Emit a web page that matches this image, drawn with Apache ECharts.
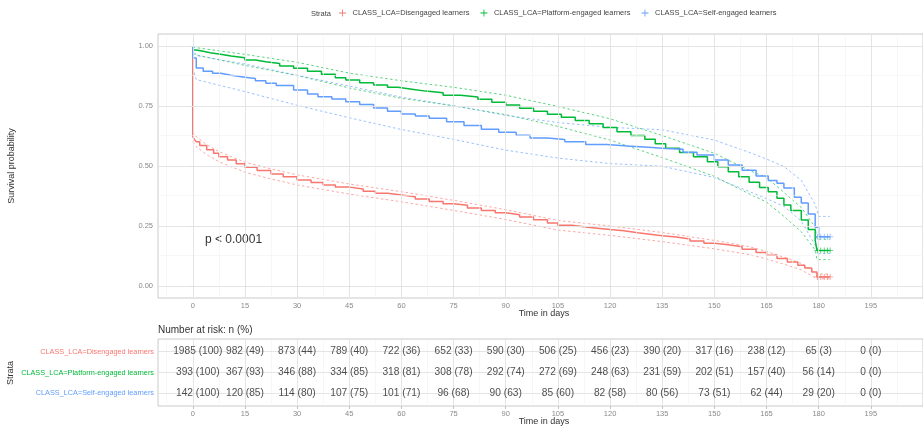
<!DOCTYPE html>
<html><head><meta charset="utf-8">
<script src="https://cdn.jsdelivr.net/npm/echarts@6/dist/echarts.min.js"></script>
<style>html,body{margin:0;padding:0;background:#fff}#c{width:923px;height:428px}</style>
</head><body><div id="c"></div>
<script>
// ---------- data ----------
const strata = ['CLASS_LCA=Disengaged learners', 'CLASS_LCA=Platform-engaged learners', 'CLASS_LCA=Self-engaged learners'];
const colors = ['#F8766D', '#00BA38', '#619CFF'];
const xTicks = [0, 15, 30, 45, 60, 75, 90, 105, 120, 135, 150, 165, 180, 195];
const xMinor = [-7.5, 7.5, 22.5, 37.5, 52.5, 67.5, 82.5, 97.5, 112.5, 127.5, 142.5, 157.5, 172.5, 187.5, 202.5];
const yTicks = [0, 0.25, 0.5, 0.75, 1];
const yMinor = [0.125, 0.375, 0.625, 0.875];

// Kaplan-Meier estimates
const disT = [0, 0, 0.5, 1, 2, 4, 6, 7.5, 10, 12.5, 15, 18.5, 22.5, 26, 30, 34, 37.5, 41, 45, 49, 52.5, 56, 60, 64, 68, 72, 75, 79, 83, 87, 90, 94, 98, 102, 105, 109, 113, 117, 120, 124, 128, 132, 135, 139, 143, 147, 150, 154, 158, 162, 165, 168, 171, 174, 176, 178, 179.5, 183.2];
const disS = [1, 0.622, 0.61, 0.601, 0.585, 0.568, 0.553, 0.539, 0.525, 0.509, 0.495, 0.481, 0.467, 0.455, 0.442, 0.431, 0.421, 0.412, 0.404, 0.395, 0.386, 0.379, 0.372, 0.362, 0.352, 0.343, 0.336, 0.325, 0.315, 0.305, 0.297, 0.287, 0.276, 0.262, 0.253, 0.246, 0.240, 0.235, 0.230, 0.222, 0.215, 0.209, 0.204, 0.196, 0.187, 0.178, 0.172, 0.164, 0.153, 0.140, 0.128, 0.115, 0.100, 0.086, 0.075, 0.058, 0.038, 0.038];
const platT = [0, 0, 1, 3, 5, 8, 11, 15, 18, 21, 25, 29, 33, 37, 41, 44, 48, 52, 56, 59, 63, 67, 72, 77, 82, 86, 90, 94, 98, 102, 106, 110, 114, 118, 122, 126, 130, 133, 136, 140, 144, 148, 151, 154, 157, 160, 163, 165.5, 168, 170, 172, 175, 177, 179, 179.5, 183.2];
const platS = [1, 0.983, 0.978, 0.972, 0.966, 0.958, 0.951, 0.942, 0.934, 0.927, 0.917, 0.907, 0.895, 0.882, 0.868, 0.858, 0.847, 0.838, 0.828, 0.820, 0.812, 0.805, 0.795, 0.787, 0.778, 0.766, 0.754, 0.741, 0.728, 0.716, 0.703, 0.690, 0.676, 0.660, 0.643, 0.627, 0.611, 0.593, 0.574, 0.556, 0.539, 0.518, 0.497, 0.476, 0.455, 0.432, 0.410, 0.393, 0.366, 0.338, 0.315, 0.275, 0.235, 0.190, 0.148, 0.148];
const selfT = [0, 0, 1, 3, 5.7, 8, 11, 15, 18, 21, 24, 29, 33, 36, 40, 44, 48, 52, 56, 60, 64, 68, 73, 78, 83, 88, 93, 97, 102, 107, 113, 119, 125, 131, 136, 141, 145, 150, 154, 158, 162, 165.5, 168, 170, 173, 175, 177, 179, 180, 183.2];
const selfS = [1, 0.95, 0.908, 0.895, 0.886, 0.878, 0.870, 0.865, 0.855, 0.845, 0.835, 0.817, 0.800, 0.789, 0.779, 0.768, 0.756, 0.742, 0.728, 0.717, 0.708, 0.699, 0.684, 0.669, 0.653, 0.641, 0.628, 0.617, 0.610, 0.601, 0.590, 0.583, 0.578, 0.573, 0.570, 0.557, 0.546, 0.525, 0.504, 0.482, 0.458, 0.440, 0.428, 0.408, 0.370, 0.346, 0.300, 0.245, 0.205, 0.205];

// confidence bands
const disCiT = [0, 1, 4, 7.5, 15, 22.5, 30, 45, 60, 75, 90, 105, 120, 135, 150, 160, 165, 170, 175, 179.5, 183.2];
const disUp = [0.643, 0.622, 0.589, 0.560, 0.516, 0.488, 0.463, 0.425, 0.393, 0.357, 0.318, 0.273, 0.250, 0.223, 0.190, 0.164, 0.144, 0.120, 0.094, 0.050, 0.050];
const disLo = [0.601, 0.580, 0.547, 0.518, 0.474, 0.446, 0.421, 0.383, 0.351, 0.315, 0.277, 0.233, 0.211, 0.185, 0.155, 0.131, 0.113, 0.091, 0.067, 0.030, 0.030];
const platCiT = [0, 1, 15, 30, 45, 60, 75, 90, 105, 120, 135, 150, 160, 165, 170, 175, 179, 179.5, 183.2];
const platUp = [0.996, 0.993, 0.965, 0.932, 0.887, 0.855, 0.828, 0.795, 0.748, 0.697, 0.627, 0.553, 0.482, 0.452, 0.390, 0.327, 0.245, 0.195, 0.195];
const platLo = [0.970, 0.963, 0.919, 0.877, 0.825, 0.782, 0.751, 0.714, 0.665, 0.608, 0.535, 0.457, 0.384, 0.350, 0.290, 0.226, 0.150, 0.110, 0.110];
const selfCiT = [0, 1, 15, 30, 45, 60, 75, 90, 105, 120, 135, 150, 160, 165, 170, 175, 179, 180, 183.2];
const selfUp = [0.99, 0.96, 0.925, 0.878, 0.833, 0.787, 0.751, 0.711, 0.681, 0.661, 0.651, 0.608, 0.557, 0.529, 0.498, 0.440, 0.340, 0.290, 0.290];
const selfLo = [0.91, 0.86, 0.81, 0.753, 0.701, 0.652, 0.611, 0.566, 0.533, 0.510, 0.499, 0.452, 0.394, 0.364, 0.332, 0.270, 0.170, 0.135, 0.135];

// censoring marks at end of follow-up
const censT = [179.6, 180.6, 181.6, 182.5, 183.3];
const censS = [0.038, 0.148, 0.205];

// number at risk table
const riskT = [0, 15, 30, 45, 60, 75, 90, 105, 120, 135, 150, 165, 180, 195];
const disN = [1985, 982, 873, 789, 722, 652, 590, 506, 456, 390, 317, 238, 65, 0];
const disP = [100, 49, 44, 40, 36, 33, 30, 25, 23, 20, 16, 12, 3, 0];
const platN = [393, 367, 346, 334, 318, 308, 292, 272, 248, 231, 202, 157, 56, 0];
const platP = [100, 93, 88, 85, 81, 78, 74, 69, 63, 59, 51, 40, 14, 0];
const selfN = [142, 120, 114, 107, 101, 96, 90, 85, 82, 80, 73, 62, 29, 0];
const selfP = [100, 85, 80, 75, 71, 68, 63, 60, 58, 56, 51, 44, 20, 0];
const rowVal = [3, 2, 1];

const pText = 'p < 0.0001';

// ---------- chart ----------
const FONT = "'Liberation Sans', Arial, sans-serif";
const zip = (a, b) => a.map((v, i) => [v, b[i]]);
const plusIcon = 'path://M0,4.4h10v1.2h-10zM4.4,0h1.2v10h-1.2z';
const TICKC = '#8a8a8a';

function gridLines(gi, xs, ys, color, width) {
  return {
    type: 'line', xAxisIndex: gi, yAxisIndex: gi, data: [], silent: true, z: 0, animation: false,
    markLine: {
      silent: true, symbol: ['none', 'none'], animation: false, label: {show: false},
      lineStyle: {color: color, width: width, type: 'solid'},
      emphasis: {disabled: true},
      data: xs.map(v => ({xAxis: v})).concat(ys.map(v => ({yAxis: v})))
    }
  };
}

const kmSets = [[disT, disS], [platT, platS], [selfT, selfS]];
const ciSets = [[disCiT, disUp, disLo], [platCiT, platUp, platLo], [selfCiT, selfUp, selfLo]];
const riskSets = [[disN, disP], [platN, platP], [selfN, selfP]];

const series = [];
series.push(gridLines(0, xMinor, yMinor, '#f1f1f1', 0.6));
series.push(gridLines(0, xTicks, yTicks, '#e2e2e2', 0.9));
series.push(gridLines(1, xMinor, [], '#f1f1f1', 0.6));
series.push(gridLines(1, xTicks, rowVal, '#e2e2e2', 0.9));

ciSets.forEach((c, i) => {
  [c[1], c[2]].forEach(v => {
    series.push({
      type: 'line', xAxisIndex: 0, yAxisIndex: 0, data: zip(c[0], v), showSymbol: false, silent: true,
      lineStyle: {color: colors[i], width: 0.8, type: [2.5, 2.5], opacity: 0.8}, z: 2, animation: false
    });
  });
});
kmSets.forEach((k, i) => {
  series.push({
    name: strata[i], type: 'line', step: 'end', xAxisIndex: 0, yAxisIndex: 0,
    data: zip(k[0], k[1]), showSymbol: false, symbol: 'none',
    lineStyle: {color: colors[i], width: 1.5}, itemStyle: {color: colors[i]}, z: 3, animation: false
  });
  series.push({
    type: 'scatter', xAxisIndex: 0, yAxisIndex: 0, symbol: plusIcon, symbolSize: 6, silent: true,
    data: censT.map(t => [t, censS[i]]), itemStyle: {color: colors[i]}, z: 4, animation: false
  });
});
riskSets.forEach((r, i) => {
  series.push({
    type: 'scatter', xAxisIndex: 1, yAxisIndex: 1, symbolSize: 0, silent: true, animation: false, z: 5,
    data: riskT.map((t, j) => {
      const item = {value: [t, rowVal[i], r[0][j] + ' (' + r[1][j] + ')']};
      if (j === 0) item.label = {offset: [5, 0]};
      return item;
    }),
    label: {show: true, position: 'inside', formatter: p => p.value[2], fontFamily: FONT, fontSize: 10.2, color: '#222'}
  });
});

const xAxisBase = (gi) => ({
  type: 'value', gridIndex: gi, min: -10, max: 210,
  axisLine: {show: false}, splitLine: {show: false},
  axisTick: {show: true, customValues: xTicks, length: 3, lineStyle: {color: '#b5b5b5', width: 0.8}},
  axisLabel: {customValues: xTicks, fontFamily: FONT, fontSize: 7.5, color: TICKC, margin: 4}
});

const option = {
  animation: false,
  backgroundColor: '#ffffff',
  textStyle: {fontFamily: FONT},
  legend: {
    left: 339, top: 9, padding: 0, itemWidth: 10, itemHeight: 7, itemGap: 11,
    textStyle: {fontFamily: FONT, fontSize: 7.5, color: '#444'},
    data: strata.map(s => ({name: s, icon: plusIcon})),
    selectedMode: false
  },
  grid: [
    {left: 158, right: -6, top: 34, height: 264, show: true, borderColor: '#bdbdbd', borderWidth: 0.8, backgroundColor: 'transparent'},
    {left: 158, right: -6, top: 339, height: 67, show: true, borderColor: '#bdbdbd', borderWidth: 0.8, backgroundColor: 'transparent'}
  ],
  xAxis: [xAxisBase(0), xAxisBase(1)],
  yAxis: [
    {
      type: 'value', gridIndex: 0, min: -0.05, max: 1.05,
      axisLine: {show: false}, splitLine: {show: false},
      axisTick: {show: true, customValues: yTicks, length: 3, lineStyle: {color: '#b5b5b5', width: 0.8}},
      axisLabel: {customValues: yTicks, formatter: v => Number(v).toFixed(2), fontFamily: FONT, fontSize: 7.5, color: TICKC, margin: 5}
    },
    {
      type: 'value', gridIndex: 1, min: 0.4, max: 3.6,
      axisLine: {show: false}, splitLine: {show: false},
      axisTick: {show: true, customValues: rowVal, length: 3, lineStyle: {color: '#b5b5b5', width: 0.8}},
      axisLabel: {
        customValues: rowVal, fontFamily: FONT, fontSize: 7.3, margin: 4,
        formatter: v => strata[3 - Math.round(Number(v))],
        color: v => colors[3 - Math.round(Number(v))]
      }
    }
  ],
  graphic: [
    {type: 'text', x: 311, y: 14, style: {text: 'Strata', font: '7.5px ' + FONT, fill: '#444', verticalAlign: 'middle'}},
    {type: 'text', x: 205, y: 240, style: {text: pText, font: '12px ' + FONT, fill: '#333', verticalAlign: 'middle'}},
    {type: 'text', x: 12, y: 166, rotation: Math.PI / 2, style: {text: 'Survival probability', font: '9px ' + FONT, fill: '#333', align: 'center', verticalAlign: 'middle'}},
    {type: 'text', x: 544, y: 314, style: {text: 'Time in days', font: '9px ' + FONT, fill: '#333', align: 'center', verticalAlign: 'middle'}},
    {type: 'text', x: 158, y: 330, style: {text: 'Number at risk: n (%)', font: '10px ' + FONT, fill: '#333', verticalAlign: 'middle'}},
    {type: 'text', x: 11, y: 373, rotation: Math.PI / 2, style: {text: 'Strata', font: '9px ' + FONT, fill: '#333', align: 'center', verticalAlign: 'middle'}},
    {type: 'text', x: 544, y: 422, style: {text: 'Time in days', font: '9px ' + FONT, fill: '#333', align: 'center', verticalAlign: 'middle'}}
  ],
  series: series
};

const chart = echarts.init(document.getElementById('c'), null, {renderer: 'canvas'});
chart.setOption(option);
</script>
</body></html>
